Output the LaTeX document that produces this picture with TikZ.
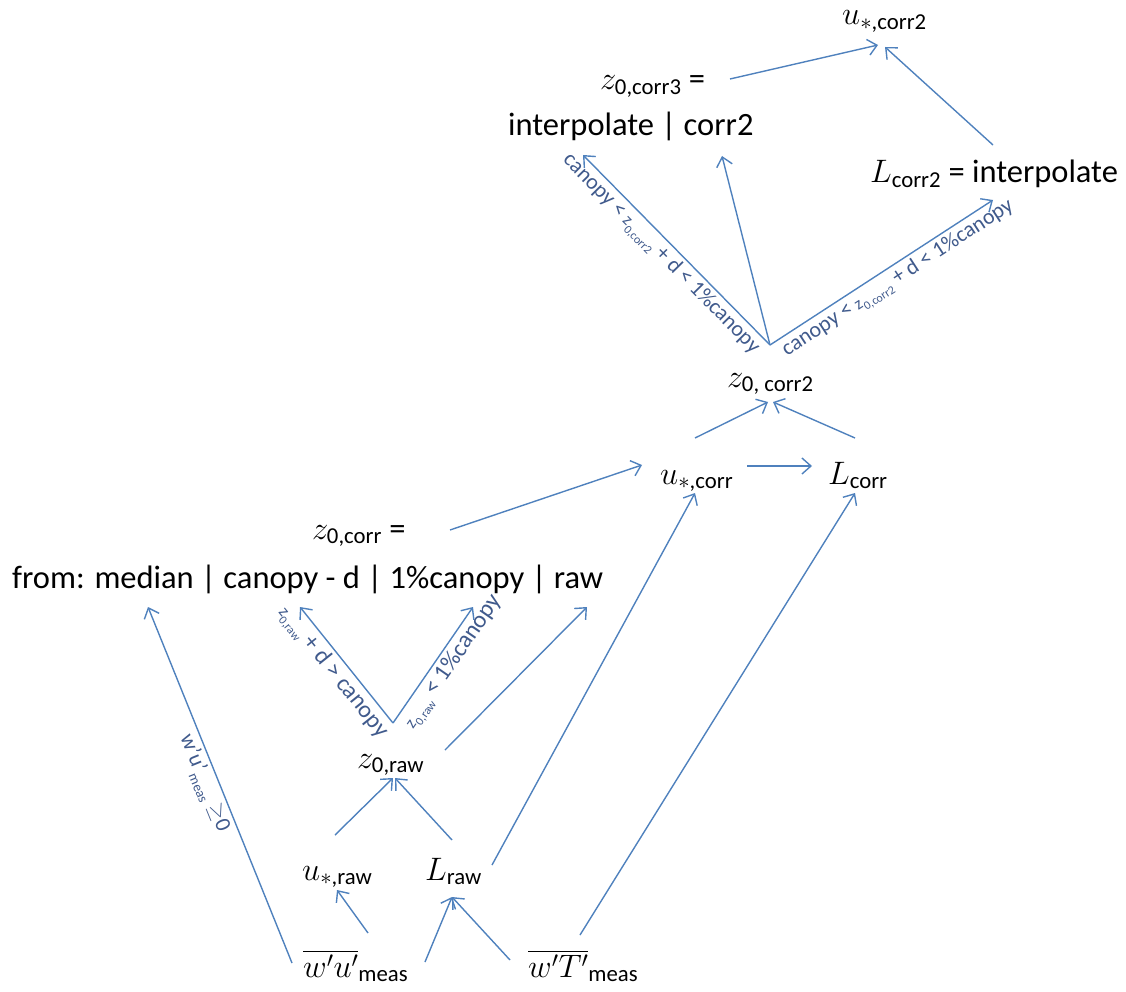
\RequirePackage{fix-cm}
\documentclass[tikz,border=0pt]{standalone}
\usepackage{fontspec}
\usepackage{amsmath}
\setmainfont{Carlito}
\usetikzlibrary{arrows.meta}
\definecolor{linec}{RGB}{79,129,189}
\definecolor{lblc}{RGB}{64,90,140}
\newcommand{\zsm}[3]{{\fontsize{#1}{#1}\selectfont z\raisebox{-0.3em}{\fontsize{#2}{#2}\selectfont #3}}}
\begin{document}
\begin{tikzpicture}[x=1pt,y=-1pt,
  txt/.style={inner sep=0pt, anchor=base west, font=\fontsize{32.5}{39}\selectfont},
  arr/.style={draw=linec, line width=1.4pt, -{Straight Barb[length=9pt,width=16pt,line width=1.4pt]}},
  lbl/.style={sloped, below, inner sep=3pt, text=lblc, font=\fontsize{22}{26}\selectfont},
  lblb/.style={lbl, font=\fontsize{24}{28}\selectfont},
]
\useasboundingbox (0,0) rectangle (1126,992);

% nodes
\node[txt] (ucorr2) at (842,25) {$u_{*\text{,corr2}}$};
\node[txt] (zcorr3) at (600,90) {$z_{\text{0,corr3}}$ =};
\node[txt] (interp) at (508,136) {interpolate | corr2};
\node[txt] (Lcorr2) at (870,183) {$L_{\text{corr2}}$ = interpolate};
\node[txt] (zcorr2) at (727,387) {$z_{\text{0, corr2}}$};
\node[txt] (ucorr) at (660,484) {$u_{*\text{,corr}}$};
\node[txt] (Lcorr) at (828,484) {$L_{\text{corr}}$};
\node[txt] (zcorr) at (312,539) {$z_{\text{0,corr}}$ =};
\node[txt] (from) at (12,588) {from: median | canopy - d | 1\%canopy | raw};
\node[txt] (zraw) at (357,768) {$z_{\text{0,raw}}$};
\node[txt] (uraw) at (302,880) {$u_{*\text{,raw}}$};
\node[txt] (Lraw) at (425,880) {$L_{\text{raw}}$};
\node[txt] (wu) at (303,977) {$\overline{w'u'}_{\text{meas}}$};
\node[txt] (wT) at (528,977) {$\overline{w'T'}_{\text{meas}}$};

\coordinate (f2) at ([shift={(43,-42)}]zcorr2.base west);
\coordinate (f1) at ([shift={(36,-45)}]zraw.base west);

% top
\draw[arr] ([shift={(130,-11)}]zcorr3.base west) -- ([shift={(36,20)}]ucorr2.base west);
\draw[arr] ([shift={(123,-38)}]Lcorr2.base west) -- ([shift={(43,22)}]ucorr2.base west);
\draw[arr] (f2) -- node[lbl,pos=0.53]{canopy < \zsm{17}{12}{0,corr2} + d < 1\%canopy} ([shift={(75,19)}]interp.base west);
\draw[arr] (f2) -- ([shift={(214,20)}]interp.base west);
\draw[arr] (f2) -- node[lbl,pos=0.54]{canopy < \zsm{17}{12}{0,corr2} + d < 1\%canopy} ([shift={(123,17)}]Lcorr2.base west);

% middle
\draw[arr] ([shift={(35,-46)}]ucorr.base west) -- ([shift={(41,15)}]zcorr2.base west);
\draw[arr] ([shift={(27,-46)}]Lcorr.base west) -- ([shift={(46,15)}]zcorr2.base west);
\draw[arr] ([shift={(87,-18)}]ucorr.base west) -- ([shift={(-16,-18)}]Lcorr.base west);
\draw[arr] ([shift={(138,-9)}]zcorr.base west) -- ([shift={(-18,-19)}]ucorr.base west);
\draw[arr] ([shift={(67,-15)}]Lraw.base west) -- ([shift={(35,9)}]ucorr.base west);
\draw[arr] ([shift={(52,-42)}]wT.base west) -- ([shift={(27,9)}]Lcorr.base west);

% lower
\draw[arr] ([shift={(-11,-14)}]wu.base west) -- node[lbl,pos=0.52]{w'u'\raisebox{-0.3em}{\fontsize{14}{14}\selectfont meas} $\geq$0} ([shift={(136,19)}]from.base west);
\draw[arr] (f1) -- node[lblb,pos=0.52]{\zsm{17}{12}{0,raw} + d > canopy} ([shift={(288,19)}]from.base west);
\draw[arr] (f1) -- node[lblb,pos=0.6]{\zsm{17}{12}{0,raw} < 1\%canopy} ([shift={(461,19)}]from.base west);
\draw[arr] ([shift={(88,-18)}]zraw.base west) -- ([shift={(575,19)}]from.base west);
\draw[arr] ([shift={(33,-45)}]uraw.base west) -- ([shift={(36,10)}]zraw.base west);
\draw[arr] ([shift={(27,-40)}]Lraw.base west) -- ([shift={(38,10)}]zraw.base west);
\draw[arr] ([shift={(65,-44)}]wu.base west) -- ([shift={(35,10)}]uraw.base west);
\draw[arr] ([shift={(122,-15)}]wu.base west) -- ([shift={(27,17)}]Lraw.base west);
\draw[arr] ([shift={(-18,-17)}]wT.base west) -- ([shift={(27,17)}]Lraw.base west);
\end{tikzpicture}
\end{document}
